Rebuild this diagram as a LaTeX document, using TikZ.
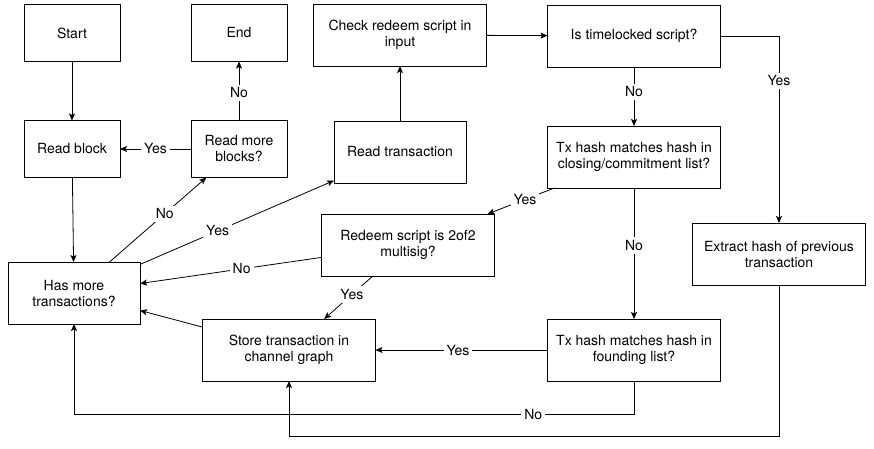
\documentclass[tikz,border=0pt]{standalone}
\usepackage{fontspec}
\setmainfont{TeX Gyre Heros}
\usetikzlibrary{arrows.meta}

\begin{document}
\begin{tikzpicture}[x=1pt, y=-1pt, line width=0.8pt, >={Stealth[length=7pt, width=6pt, inset=1.5pt]}]
  \tikzset{every node/.style={font=\fontsize{14}{16}\selectfont}}
  \tikzset{smallbox/.style={draw, align=center, outer sep=0pt, minimum width=96pt, minimum height=57pt}}
  \tikzset{midbox/.style={draw, align=center, outer sep=0pt, minimum width=132pt, minimum height=62pt}}
  \tikzset{widebox/.style={draw, align=center, outer sep=0pt, minimum width=173pt, minimum height=62pt}}
  \tikzset{ans/.style={fill=white, inner sep=3pt}}
  \useasboundingbox (0,0) rectangle (874,449);
  \node[smallbox] (start) at (72,33) {Start};
  \node[smallbox] (finish) at (239,33) {End};
  \node[smallbox] (readblock) at (72,149) {Read block};
  \node[smallbox] (readmore) at (239,149) {Read more\\blocks?};
  \node[midbox] (hasmore) at (74,293) {Has more\\transactions?};
  \node[midbox] (readtx) at (400,152) {Read transaction};
  \node[widebox] (checkscript) at (400,35) {Check redeem script in\\input};
  \node[widebox] (timelock) at (634,36) {Is timelocked script?};
  \node[widebox] (closing) at (634,157) {Tx hash matches hash in\\closing/commitment list?};
  \node[widebox] (multisig) at (408,245) {Redeem script is 2of2\\multisig?};
  \node[widebox] (extract) at (779,254) {Extract hash of previous\\transaction};
  \node[widebox] (store) at (289,350) {Store transaction in\\channel graph};
  \node[widebox] (founding) at (634,350) {Tx hash matches hash in\\founding list?};
  \draw (start) edge[->] (readblock);
  \draw (readblock) edge[->] (hasmore);
  \draw (readmore) edge[->] node[ans, pos=0.5] {Yes} (readblock);
  \draw (readmore) edge[->] node[ans, pos=0.47] {No} (finish);
  \draw (hasmore) edge[->] node[ans, pos=0.57] {No} (readmore);
  \draw (hasmore) edge[->] node[ans, pos=0.4] {Yes} (readtx);
  \draw (readtx) edge[->] (checkscript);
  \draw (checkscript) edge[->] (timelock);
  \draw (timelock) edge[->] node[ans, pos=0.42] {No} (closing);
  \draw[->] (timelock.east) -| node[ans, pos=0.62] {Yes} (extract.north);
  \draw (closing) edge[->] node[ans, pos=0.44] {Yes} (multisig);
  \draw (closing) edge[->] node[ans, pos=0.44] {No} (founding);
  \draw (multisig) edge[->] node[ans, pos=0.44] {No} (hasmore);
  \draw (multisig) edge[->] node[ans, pos=0.43] {Yes} (store);
  \draw (store) edge[->] (hasmore);
  \draw (founding) edge[->] node[ans, pos=0.52] {Yes} (store);
  \draw[->] (founding.south) -- ++(0,33) -| node[ans, pos=0.09] {No} (hasmore.south);
  \draw[->] (extract.south) -- ++(0,151) -| (store.south);
\end{tikzpicture}
\end{document}
